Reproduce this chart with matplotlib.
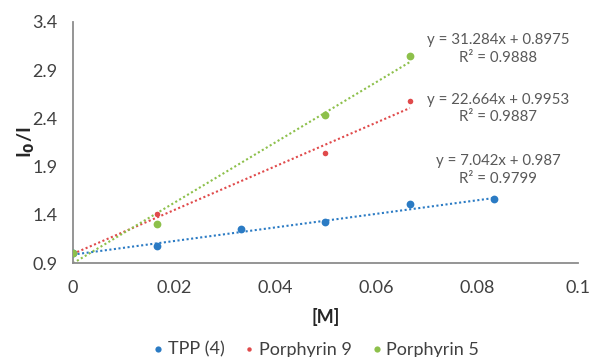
import matplotlib
matplotlib.use("Agg")
import matplotlib.pyplot as plt
import numpy as np

plt.rcParams['font.family'] = ['Lato', 'DejaVu Sans']

# Data
tpp_x = [0.0, 0.0167, 0.0333, 0.05, 0.0667, 0.0833]
tpp_y = [1.0, 1.08, 1.256, 1.322, 1.512, 1.564]
p9_x = [0.0, 0.0167, 0.05, 0.0667]
p9_y = [1.0, 1.408, 2.04, 2.584]
p5_x = [0.0, 0.0167, 0.05, 0.0667]
p5_y = [1.0, 1.305, 2.435, 3.05]

series_names = ["TPP (4)", "Porphyrin 9", "Porphyrin 5"]
slopes = [7.042, 22.664, 31.284]
intercepts = [0.987, 0.9953, 0.8975]
r2 = [0.9799, 0.9887, 0.9888]
eq_labels = ["y = 7.042x + 0.987\nR² = 0.9799",
             "y = 22.664x + 0.9953\nR² = 0.9887",
             "y = 31.284x + 0.8975\nR² = 0.9888"]
eq_pos = [(0.0842, 1.865), (0.0842, 2.503), (0.0842, 3.12)]

xticks = [0, 0.02, 0.04, 0.06, 0.08, 0.1]
xticklabels = ["0", "0.02", "0.04", "0.06", "0.08", "0.1"]
yticks = [0.9, 1.4, 1.9, 2.4, 2.9, 3.4]
yticklabels = ["0.9", "1.4", "1.9", "2.4", "2.9", "3.4"]

colors = ["#2B7BC4", "#E04A4B", "#8DC04B"]
msizes = [5.6, 4.0, 5.6]

fig = plt.figure(figsize=(5.93, 3.57), dpi=100)
ax = fig.add_axes([0.1231, 0.2633, 0.8516, 0.6751])

xs_all = [tpp_x, p9_x, p5_x]
ys_all = [tpp_y, p9_y, p5_y]
for xs, ys, c, ms, name, m, b in zip(xs_all, ys_all, colors, msizes, series_names, slopes, intercepts):
    ax.plot(xs, ys, 'o', color=c, markersize=ms, label=name, zorder=3, markeredgewidth=0)
    lx = np.array([0, max(xs)])
    ax.plot(lx, m * lx + b, linestyle=(0, (1, 1.2)), color=c, linewidth=1.5, zorder=2)

for lbl, (ex, ey) in zip(eq_labels, eq_pos):
    ax.text(ex, ey, lbl, ha='center', va='center', fontsize=10.8, color='#595959',
            linespacing=1.3, multialignment='center')

ax.set_xlim(0, 0.1)
ax.set_ylim(0.9, 3.4)
ax.set_xticks(xticks)
ax.set_xticklabels(xticklabels)
ax.set_yticks(yticks)
ax.set_yticklabels(yticklabels)
ax.tick_params(axis='both', length=0, labelsize=13, labelcolor='#404040')
ax.tick_params(axis='x', pad=12)
ax.tick_params(axis='y', pad=11)
for s in ['top', 'right']:
    ax.spines[s].set_visible(False)
for s in ['left', 'bottom']:
    ax.spines[s].set_color('#8C8C8C')
    ax.spines[s].set_linewidth(1.3)

ax.set_xlabel("[M]", fontsize=13, fontweight='bold', color='#262626', labelpad=9)
ax.set_ylabel(r"I$_\mathbf{0}$/I", fontsize=14, fontweight='bold', color='#262626', labelpad=-3)

leg = fig.legend(loc='center', bbox_to_anchor=(0.53, 0.02), ncol=3, frameon=False,
                 fontsize=13, handletextpad=0.05, columnspacing=0.85, markerscale=0.8,
                 handlelength=1.0)
for t in leg.get_texts():
    t.set_color('#404040')

fig.savefig("out.png", dpi=100)
